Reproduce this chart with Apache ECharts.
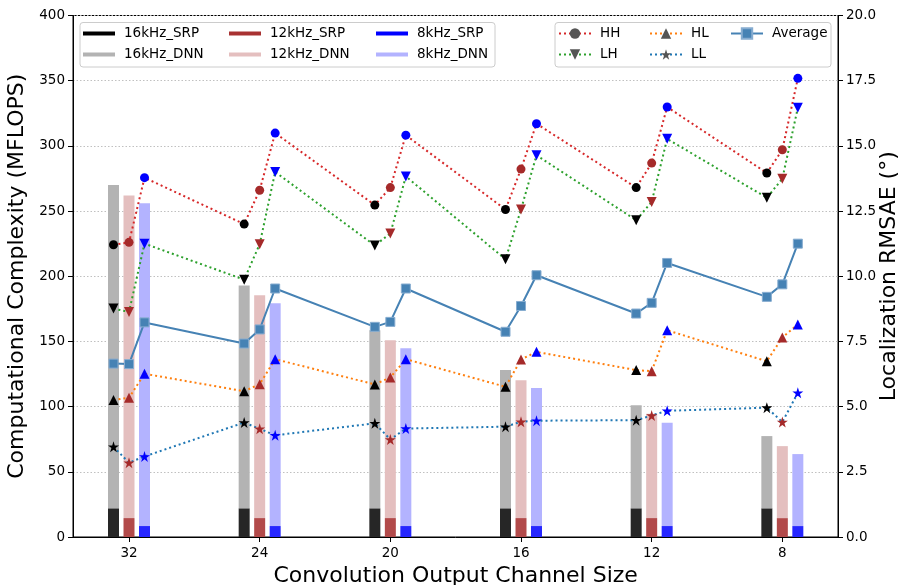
<!DOCTYPE html>
<html><head><meta charset="utf-8">
<script src="https://cdn.jsdelivr.net/npm/echarts@6/dist/echarts.min.js"></script>
<style>html,body{margin:0;padding:0;background:#fff}#c{width:903px;height:585px}</style>
</head><body><div id="c"></div>
<script>
// ---------- data ----------
const categories = ['32', '24', '20', '16', '12', '8'];
// bar values (MFLOPS)
const srp16 = [22, 22, 22, 22, 22, 22];
const srp12 = [14.5, 14.5, 14.5, 14.5, 14.5, 14.5];
const srp8  = [8.4, 8.4, 8.4, 8.4, 8.4, 8.4];
const dnn16 = [270, 193, 158.6, 128, 101, 77.4];   // top of DNN bar
const dnn12 = [262, 185.4, 151, 120.3, 94.5, 69.7];
const dnn8  = [256, 179.3, 144.8, 114.2, 87.6, 63.6];
// localization RMSAE (deg), per sample rate
const HH_16 = [11.21, 12.00, 12.73, 12.56, 13.40, 13.96];
const HH_12 = [11.30, 13.30, 13.40, 14.11, 14.34, 14.85];
const HH_8  = [13.78, 15.49, 15.41, 15.85, 16.49, 17.59];
const LH_16 = [8.76, 9.87, 11.18, 10.65, 12.15, 13.01];
const LH_12 = [8.63, 11.23, 11.64, 12.56, 12.85, 13.74];
const LH_8  = [11.25, 14.00, 13.83, 14.64, 15.27, 16.46];
const HL_16 = [5.25, 5.59, 5.85, 5.76, 6.40, 6.74];
const HL_12 = [5.34, 5.86, 6.12, 6.81, 6.36, 7.65];
const HL_8  = [6.26, 6.82, 6.82, 7.10, 7.93, 8.15];
const LL_16 = [3.46, 4.39, 4.36, 4.23, 4.48, 4.96];
const LL_12 = [2.85, 4.15, 3.74, 4.42, 4.66, 4.41];
const LL_8  = [3.09, 3.90, 4.16, 4.46, 4.84, 5.53];
const AVG_16 = [6.65, 7.42, 8.06, 7.87, 8.57, 9.21];
const AVG_12 = [6.63, 7.96, 8.25, 8.86, 8.98, 9.69];
const AVG_8  = [8.23, 9.53, 9.53, 10.04, 10.51, 11.25];

// ---------- styling ----------
const FONT = 'DejaVu Sans';
const rateColors = ['#000000', '#a52a2a', '#0000ff'];
const BAND = 130.67;               // px per category
const BAR_W = 11, STEP = 15.5;     // bar width & centre spacing (px)
const OFF = STEP / BAND;           // centre offset in category units
const starPath = 'path://M0,-1L0.2245,-0.309L0.951,-0.309L0.363,0.118L0.588,0.809L0,0.382L-0.588,0.809L-0.363,0.118L-0.951,-0.309L-0.2245,-0.309Z';

function interleave(a, b, c) {
  const out = [];
  for (let i = 0; i < categories.length; i++) {
    [a, b, c].forEach((arr, k) => {
      out.push({ value: [i + (k - 1) * OFF, arr[i]], itemStyle: { color: rateColors[k] } });
    });
  }
  return out;
}
function lineSeries(name, a, b, c, color, symbol, size, rotate) {
  return {
    name, type: 'line', xAxisIndex: 2, yAxisIndex: 3, z: 5,
    data: interleave(a, b, c),
    symbol, symbolSize: size, symbolRotate: rotate || 0,
    lineStyle: { color, width: 2, type: [2, 3] },
    itemStyle: { color: '#555555' },
    emphasis: { disabled: true }
  };
}
function barPair(r, srp, dnn, srpColor, dnnColor) {
  const gap = ((STEP - BAR_W) / BAR_W * 100).toFixed(1) + '%';
  return [
    { name: r + 'kHz_SRP', type: 'bar', xAxisIndex: 1, yAxisIndex: 2, stack: 's' + r,
      barWidth: BAR_W, barGap: gap,
      data: srp, itemStyle: { color: srpColor }, emphasis: { disabled: true } },
    { name: r + 'kHz_DNN', type: 'bar', xAxisIndex: 1, yAxisIndex: 2, stack: 's' + r,
      barWidth: BAR_W, barGap: gap,
      data: dnn.map((v, i) => +(v - srp[i]).toFixed(2)), itemStyle: { color: dnnColor }, emphasis: { disabled: true } }
  ];
}

const series = [
  ...barPair(16, srp16, dnn16, '#262626', '#b3b3b3'),
  ...barPair(12, srp12, dnn12, '#b24a4a', '#e4bfbf'),
  ...barPair(8, srp8, dnn8, '#2626ff', '#b3b3ff'),
  lineSeries('HH', HH_16, HH_12, HH_8, '#d62728', 'circle', 9),
  lineSeries('LH', LH_16, LH_12, LH_8, '#2ca02c', 'triangle', 10, 180),
  lineSeries('HL', HL_16, HL_12, HL_8, '#ff7f0e', 'triangle', 10),
  lineSeries('LL', LL_16, LL_12, LL_8, '#1f77b4', starPath, 11),
  {
    name: 'Average', type: 'line', xAxisIndex: 2, yAxisIndex: 3, z: 4,
    data: interleave(AVG_16, AVG_12, AVG_8).map(d => ({ value: d.value })),
    symbol: 'rect', symbolSize: 9,
    lineStyle: { color: '#4682b4', width: 2 },
    itemStyle: { color: '#4682b4', borderColor: '#86acd0', borderWidth: 1 },
    emphasis: { disabled: true }
  }
];

const thick = 'path://M0,0H32V4H0Z';
const legendBase = {
  orient: 'vertical', itemWidth: 32, itemHeight: 13, itemGap: 7, z: 20,
  selectedMode: false, padding: 0,
  textStyle: { fontSize: 13.5, color: '#000', fontFamily: FONT, padding: [0, 0, 0, 4] }
};
const lg = (left, top, data) => Object.assign({}, legendBase, { left, top, data });

const axisLabelStyle = { fontSize: 13.5, color: '#000', fontFamily: FONT };
const nameStyle = { fontSize: 22, color: '#000', fontFamily: FONT };

const option = {
  animation: false,
  backgroundColor: '#fff',
  grid: [
    { left: 73, right: 65, top: 15.5, bottom: 48, outerBoundsMode: 'none', containLabel: false,
      show: true, borderColor: '#000', borderWidth: 1, backgroundColor: 'transparent' },
    { left: 63.67, right: 55.33, top: 15.5, bottom: 48, outerBoundsMode: 'none', containLabel: false }
  ],
  xAxis: [
    { gridIndex: 0, type: 'value', min: 0, max: 1, axisLine: { show: true, lineStyle: { color: '#000', width: 1 } },
      axisTick: { show: false }, axisLabel: { show: false }, splitLine: { show: false } },
    { gridIndex: 1, type: 'category', data: categories, axisLine: { show: false },
      axisTick: { show: true, alignWithLabel: true, length: 5, lineStyle: { color: '#000' } },
      axisLabel: Object.assign({ margin: 9 }, axisLabelStyle),
      name: 'Convolution Output Channel Size', nameLocation: 'middle', nameGap: 24, nameTextStyle: nameStyle },
    { gridIndex: 1, type: 'value', min: -0.5, max: 5.5, show: false }
  ],
  yAxis: [
    { gridIndex: 0, type: 'value', position: 'left', min: 0, max: 400, interval: 50,
      axisLine: { show: true, lineStyle: { color: '#000' } },
      axisTick: { show: true, length: 5, lineStyle: { color: '#000' } },
      axisLabel: Object.assign({ margin: 8 }, axisLabelStyle),
      splitLine: { show: true, lineStyle: { color: '#c0c0c0', width: 1, type: [1.5, 2] } },
      name: 'Computational Complexity (MFLOPS)', nameLocation: 'middle', nameGap: 39, nameTextStyle: nameStyle },
    { gridIndex: 0, type: 'value', position: 'right', min: 0, max: 20, interval: 2.5,
      axisLine: { show: true, lineStyle: { color: '#000' } },
      axisTick: { show: true, length: 5, lineStyle: { color: '#000' } },
      axisLabel: Object.assign({ margin: 8, formatter: v => v.toFixed(1) }, axisLabelStyle),
      splitLine: { show: false },
      name: 'Localization RMSAE (°)', nameLocation: 'middle', nameGap: 40, nameMoveOverlap: false,
      nameTextStyle: nameStyle },
    { gridIndex: 1, type: 'value', min: 0, max: 400, show: false },
    { gridIndex: 1, type: 'value', min: 0, max: 20, show: false }
  ],
  legend: [
    lg(83, 26.5, [{ name: '16kHz_SRP', icon: thick, itemStyle: { color: '#000000' } },
                  { name: '16kHz_DNN', icon: thick, itemStyle: { color: '#b3b3b3' } }]),
    lg(229, 26.5, [{ name: '12kHz_SRP', icon: thick, itemStyle: { color: '#a83232' } },
                   { name: '12kHz_DNN', icon: thick, itemStyle: { color: '#e4bfbf' } }]),
    lg(376, 26.5, [{ name: '8kHz_SRP', icon: thick, itemStyle: { color: '#0000ff' } },
                   { name: '8kHz_DNN', icon: thick, itemStyle: { color: '#b3b3ff' } }]),
    lg(558, 26.5, [{ name: 'HH' }, { name: 'LH' }]),
    lg(649, 26.5, [{ name: 'HL' }, { name: 'LL' }]),
    lg(730, 26.5, [{ name: 'Average' }])
  ],
  graphic: [
    { type: 'rect', z: 10, shape: { x: 80, y: 22.5, width: 415, height: 44.5, r: 3 },
      style: { fill: 'rgba(255,255,255,0.8)', stroke: '#cccccc', lineWidth: 1 } },
    { type: 'rect', z: 10, shape: { x: 555, y: 22.5, width: 276, height: 44.5, r: 3 },
      style: { fill: 'rgba(255,255,255,0.8)', stroke: '#cccccc', lineWidth: 1 } }
  ],
  series
};
const chart = echarts.init(document.getElementById('c'), null, { renderer: 'canvas' });
chart.setOption(option);
</script></body></html>
